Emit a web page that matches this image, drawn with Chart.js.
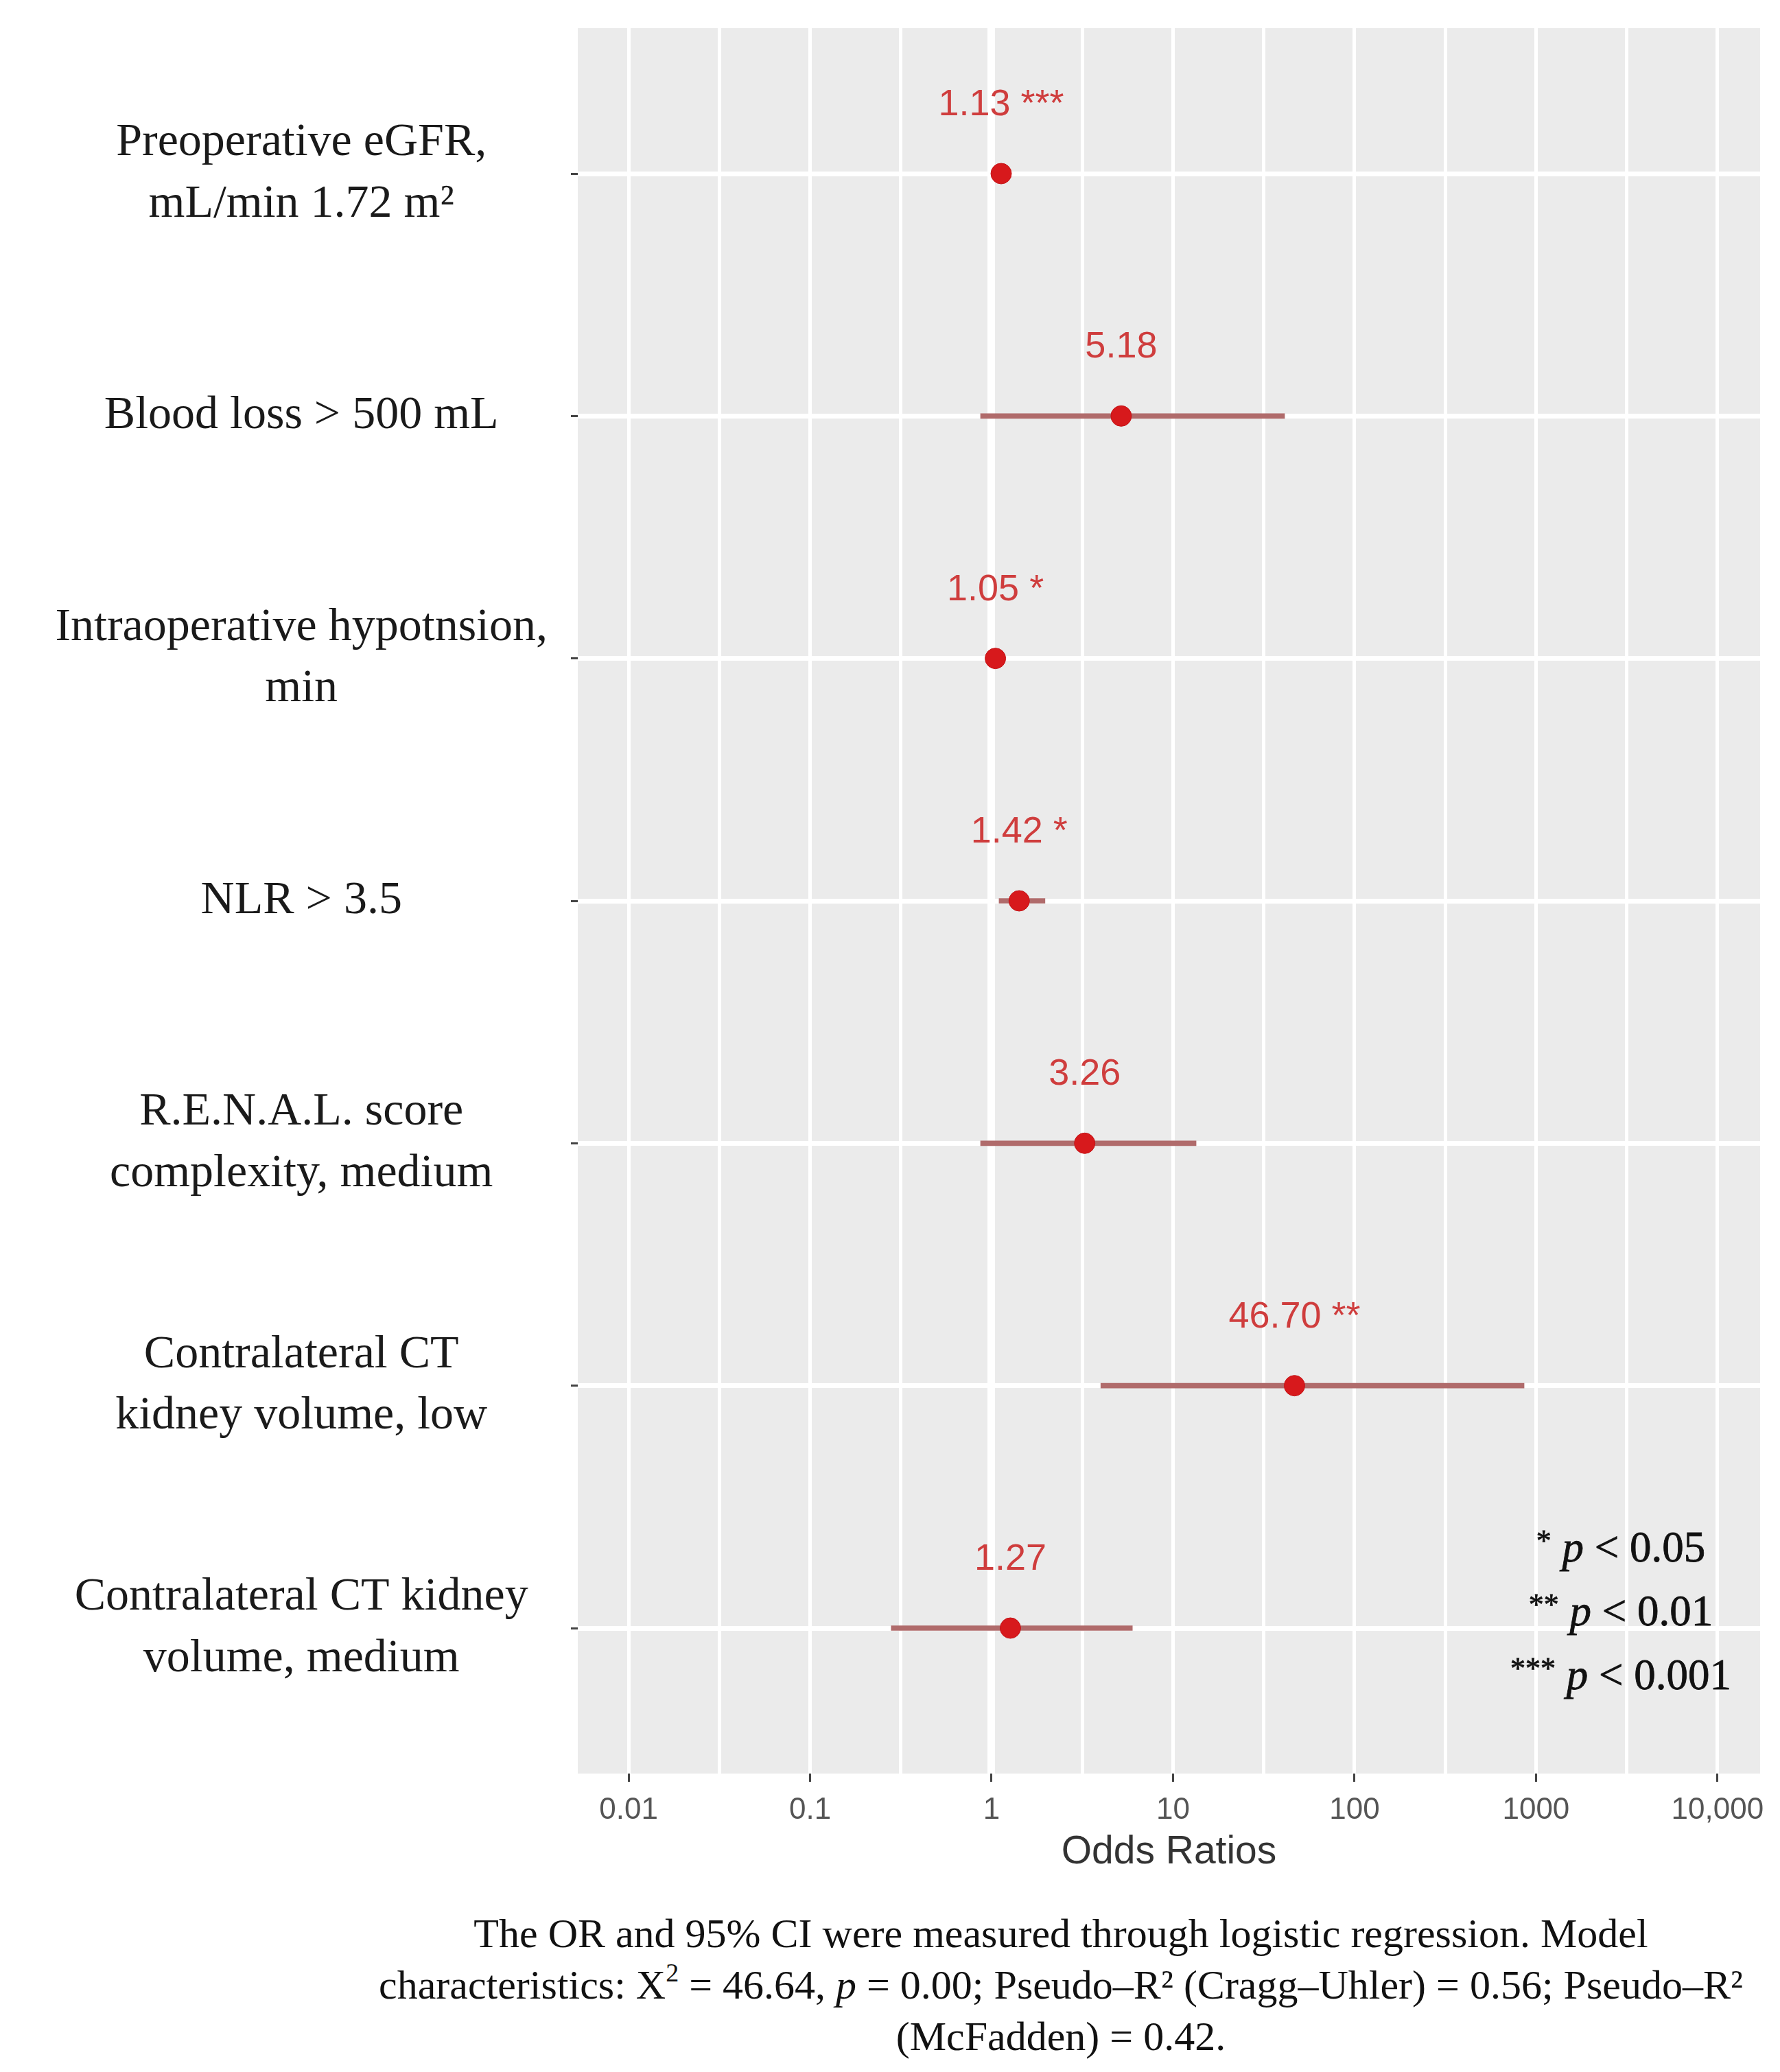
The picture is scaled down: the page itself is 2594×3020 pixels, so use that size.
<!DOCTYPE html>
<html>
<head>
<meta charset="utf-8">
<script src="https://cdn.jsdelivr.net/npm/chart.js@4.4.1/dist/chart.umd.min.js"></script>
<style>
  html, body { margin: 0; padding: 0; background: #fff; }
  #wrap { position: relative; width: 2594px; height: 3020px; overflow: hidden; }
  #forest { position: absolute; left: 0; top: 0; }
  #legend { position: absolute; left: 2112px; top: 2212px; width: 500px; text-align: center;
            font-family: "Liberation Serif", serif; font-size: 63px; line-height: 86px; color: #111;
            -webkit-text-stroke: 0.8px #111; }
  #legend .st { font-size: 44px; position: relative; top: -16px; }
  #caption { position: absolute; left: 346px; top: 2781px; width: 2400px; text-align: center;
             font-family: "Liberation Serif", serif; font-size: 60px; line-height: 75px; color: #111;
             white-space: nowrap; }
  #caption sup { font-size: 38px; line-height: 0; position: relative; top: -4px; }
</style>
</head>
<body>
<div id="wrap">
  <canvas id="forest" width="2594" height="2760"></canvas>
  <div id="legend">
    <div><span class="st">*</span> <i>p</i> &lt; 0.05</div>
    <div><span class="st">**</span> <i>p</i> &lt; 0.01</div>
    <div><span class="st">***</span> <i>p</i> &lt; 0.001</div>
  </div>
  <div id="caption">
    The OR and 95% CI were measured through logistic regression. Model<br>
    characteristics: X<sup>2</sup> = 46.64, <i>p</i> = 0.00; Pseudo–R² (Cragg–Uhler) = 0.56; Pseudo–R²<br>
    (McFadden) = 0.42.
  </div>
</div>
<script>
// Variables (filas de arriba hacia abajo)
var categorias = [
    ["Preoperative eGFR,", "mL/min 1.72 m²"],
    ["Blood loss > 500 mL"],
    ["Intraoperative hypotnsion,", "min"],
    ["NLR > 3.5"],
    ["R.E.N.A.L. score", "complexity, medium"],
    ["Contralateral CT", "kidney volume, low"],
    ["Contralateral CT kidney", "volume, medium"]
];
var oddsRatios = [1.13, 5.18, 1.05, 1.42, 3.26, 46.70, 1.27];
var ciInferior = [1.07, 0.87, 1.01, 1.10, 0.87, 4.0, 0.28];
var ciSuperior = [1.20, 41.2, 1.09, 1.97, 13.4, 860, 5.97];
var estrellas = ["***", "", "*", "*", "", "**", ""];

// Ticks del eje X (escala logarítmica)
var xTicks = [0.01, 0.1, 1, 10, 100, 1000, 10000];
var xTickLabels = ["0.01", "0.1", "1", "10", "100", "1000", "10,000"];

// Líneas menores a media década
var xMinor = [];
for (var k = 0; k < xTicks.length - 1; k++) {
    xMinor.push(xTicks[k] * Math.sqrt(10));
}

function esMayor(v) {
    return xTicks.some(function(t) { return Math.abs(Math.log10(v) - Math.log10(t)) < 1e-6; });
}

// Fondo gris del panel
var fondoPanel = {
    id: 'fondoPanel',
    beforeDraw: function(chart) {
        var a = chart.chartArea, ctx = chart.ctx;
        ctx.save();
        ctx.fillStyle = '#ebebeb';
        ctx.fillRect(a.left, a.top, a.right - a.left, a.bottom - a.top);
        ctx.restore();
    }
};

// Etiquetas de OR encima de cada punto
var etiquetasOR = {
    id: 'etiquetasOR',
    afterDatasetsDraw: function(chart) {
        var ctx = chart.ctx, xs = chart.scales.x, ys = chart.scales.y;
        ctx.save();
        ctx.font = '54px "Liberation Sans", Arial, sans-serif';
        ctx.fillStyle = '#cf3d3d';
        ctx.textAlign = 'center';
        ctx.textBaseline = 'middle';
        oddsRatios.forEach(function(v, i) {
            var txt = v.toFixed(2) + (estrellas[i] ? ' ' + estrellas[i] : '');
            ctx.fillText(txt, xs.getPixelForValue(v), ys.getPixelForValue(i) - 100);
        });
        ctx.restore();
    }
};

var ctx = document.getElementById('forest').getContext('2d');
var forestChart = new Chart(ctx, {
    type: 'bar',
    data: {
        datasets: [{
            type: 'line',
            label: 'OR',
            indexAxis: 'y',
            data: oddsRatios.map(function(v, i) { return { x: v, y: i }; }),
            showLine: false,
            pointRadius: 15,
            pointBackgroundColor: '#d7191c',
            pointBorderColor: '#c41417',
            pointBorderWidth: 1,
            order: 0
        }, {
            type: 'bar',
            label: 'IC 95%',
            indexAxis: 'y',
            data: oddsRatios.map(function(v, i) { return { x: [ciInferior[i], ciSuperior[i]], y: i }; }),
            backgroundColor: '#b06b6b',
            borderWidth: 0,
            borderSkipped: false,
            barThickness: 7,
            order: 1
        }]
    },
    options: {
        indexAxis: 'y',
        responsive: false,
        devicePixelRatio: 1,
        animation: false,
        layout: { padding: { top: 41, right: 29, left: 0, bottom: 0 } },
        plugins: {
            legend: { display: false },
            tooltip: { enabled: false }
        },
        scales: {
            x: {
                type: 'logarithmic',
                position: 'bottom',
                min: Math.pow(10, -2.28),
                max: Math.pow(10, 4.235),
                afterBuildTicks: function(scale) {
                    scale.ticks = xTicks.concat(xMinor).map(function(v) { return { value: v }; });
                },
                afterFit: function(scale) {
                    scale.height = 175;
                    scale.paddingLeft = 0;
                    scale.paddingRight = 0;
                },
                border: { display: false },
                grid: {
                    color: '#ffffff',
                    lineWidth: function(c) {
                        if (!c.tick) return 5;
                        return Math.abs(c.tick.value - 1) < 1e-9 ? 11 : 5;
                    },
                    tickColor: function(c) {
                        return c.tick && esMayor(c.tick.value) ? '#444' : 'rgba(0,0,0,0)';
                    },
                    tickLength: 12,
                    tickWidth: 3
                },
                ticks: {
                    autoSkip: false,
                    maxRotation: 0,
                    padding: 15,
                    color: '#555',
                    font: { family: '"Liberation Sans", Arial, sans-serif', size: 44 },
                    callback: function(v) {
                        var idx = xTicks.findIndex(function(t) { return Math.abs(Math.log10(v) - Math.log10(t)) < 1e-6; });
                        return idx >= 0 ? xTickLabels[idx] : '';
                    }
                },
                title: {
                    display: true,
                    text: 'Odds Ratios',
                    color: '#333',
                    font: { family: '"Liberation Sans", Arial, sans-serif', size: 57 },
                    padding: { top: 0, bottom: 26 }
                }
            },
            y: {
                type: 'linear',
                reverse: true,
                offset: false,
                min: -0.6,
                max: 6.6,
                afterBuildTicks: function(scale) {
                    scale.ticks = categorias.map(function(c, i) { return { value: i }; });
                },
                afterFit: function(scale) {
                    scale.width = 842;
                    scale.paddingTop = 0;
                    scale.paddingBottom = 0;
                },
                border: { display: false },
                grid: {
                    offset: false,
                    color: '#ffffff',
                    lineWidth: 7,
                    tickColor: '#444',
                    tickLength: 10,
                    tickWidth: 3
                },
                ticks: {
                    autoSkip: false,
                    crossAlign: 'center',
                    padding: 34,
                    color: '#1a1a1a',
                    font: { family: '"Liberation Serif", "Times New Roman", serif', size: 68, lineHeight: 1.32 },
                    callback: function(v) { return categorias[v]; }
                }
            }
        }
    },
    plugins: [fondoPanel, etiquetasOR]
});
</script>
</body>
</html>
